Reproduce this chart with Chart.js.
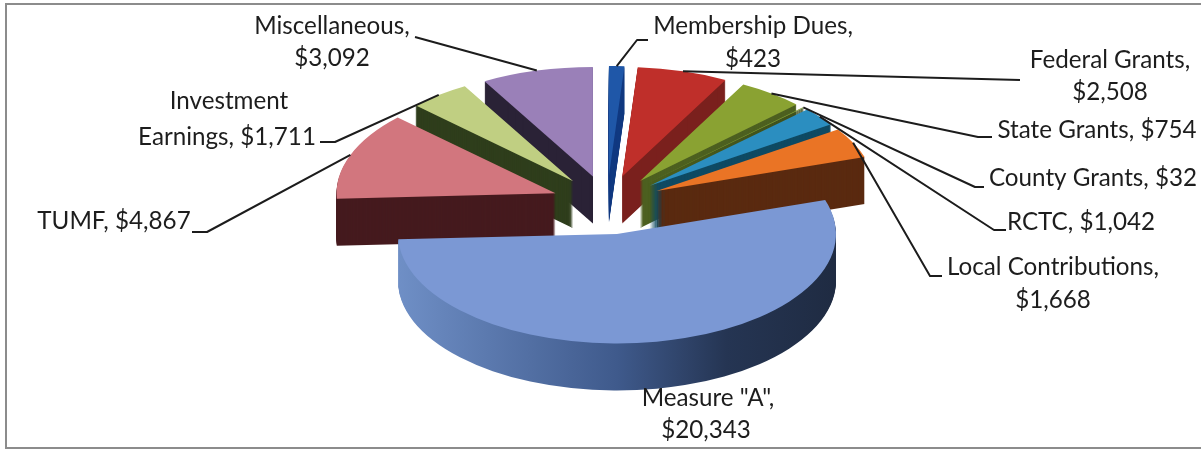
<!DOCTYPE html>
<html>
<head>
<meta charset="utf-8">
<style>html,body{margin:0;padding:0;background:#fff}canvas{display:block}</style>
<script src="https://cdn.jsdelivr.net/npm/chart.js@4"></script>
</head>
<body>
<canvas id="c" width="1201" height="450"></canvas>
<script>
const categories = ['Membership Dues','Federal Grants','State Grants','County Grants','RCTC','Local Contributions','Measure "A"','TUMF','Investment Earnings','Miscellaneous'];
// Values as printed in the data labels.
const printedValues = [423,2508,754,32,1042,1668,20343,4867,1711,3092];
// Slice sizes as drawn: same as printed, except that the State Grants slice is
// drawn far wider than its "$754" label (about 18 degrees).
const sliceValues = [423,2508,1822,32,1042,1668,20343,4867,1711,3092];
const topColors = ['#1f57a8','#bf2f2a','#8aa232','#7f9a35','#2b8ec0','#ea7425','#7b98d4','#d2767e','#c0cf82','#9a80b8'];
const sideColors = ['#123a80','#7a201d','#4d6020','#3c4d1c','#0f4a63','#5a2a10',null,'#451a1e','#2f3e1c','#2a2236'];
const drawOrder = [9,1,0,8,2,3,4,5,7,6];
const labelLines = [
  [['Membership Dues,',753,26],['$423',753,59]],
  [['Federal Grants,',1110,60],['$2,508',1110,92]],
  [['State Grants, $754',1097,130]],
  [['County Grants, $32',1093,178]],
  [['RCTC, $1,042',1081,222]],
  [['Local Contributions,',1053,267],['$1,668',1053,300]],
  [['Measure "A",',708,398],['$20,343',706,430]],
  [['TUMF, $4,867',114,221]],
  [['Investment',229,101],['Earnings, $1,711',227,137]],
  [['Miscellaneous,',332,26],['$3,092',332,58]]
];
const leaderPaths = [
  [[637,40],[648,40]],
  [[1020,80]],
  [[978,137],[992,137]],
  [[975,187],[984,187]],
  [[994,230],[1006,230]],
  [[930,276],[942,276]],
  [],
  [[207,232],[192,232]],
  [[335,142],[320,142]],
  [[415,37]]
];
const RADIUS = 219, SQUASH = 0.5, EXPLODE = 55, DEPTH = 47, FRONT_PUSH = 4;

function placed(arc){
  const mid=(arc.startAngle+arc.endAngle)/2, s=Math.sin(mid);
  return {mid, dx:Math.cos(mid)*EXPLODE, dy:s*EXPLODE*SQUASH+(s>0?s*FRONT_PUSH:0)};
}
function paintArc(ctx,arc,fill,dy){
  const p=placed(arc), saved=arc.options;
  arc.options=Object.assign({},saved,{backgroundColor:fill,borderWidth:0,offset:0});
  ctx.save();
  ctx.translate(arc.x+p.dx,arc.y+p.dy+dy);
  ctx.scale(1,SQUASH);
  ctx.translate(-arc.x,-arc.y);
  arc.draw(ctx);
  ctx.restore();
  arc.options=saved;
}
const pie3d={
  id:'pie3d',
  beforeDatasetsDraw(chart){
    const ctx=chart.ctx, arcs=chart.getDatasetMeta(0).data;
    ctx.save();
    ctx.strokeStyle='#8c8c8c';ctx.lineWidth=2;
    ctx.beginPath();ctx.moveTo(1201,4);ctx.lineTo(6,4);ctx.lineTo(6,448);ctx.lineTo(1201,448);ctx.stroke();
    ctx.restore();
    drawOrder.forEach(i=>{
      const arc=arcs[i];
      let side=sideColors[i];
      if(!side){
        side=ctx.createLinearGradient(arc.x-RADIUS,0,arc.x+RADIUS,0);
        side.addColorStop(0,'#6f8fc6');side.addColorStop(.5,'#3f5a8c');side.addColorStop(.75,'#253553');side.addColorStop(1,'#1f2b42');
      }
      for(let k=DEPTH;k>=1;k--) paintArc(ctx,arc,side,k);
      paintArc(ctx,arc,topColors[i],0);
    });
    ctx.save();
    ctx.strokeStyle='#1c1c1c';ctx.lineWidth=2;ctx.lineJoin='round';
    arcs.forEach((arc,i)=>{
      if(!leaderPaths[i].length) return;
      const p=placed(arc);
      const x=arc.x+p.dx+Math.cos(p.mid)*RADIUS, y=arc.y+p.dy+Math.sin(p.mid)*RADIUS*SQUASH;
      ctx.beginPath();ctx.moveTo(x,y);
      leaderPaths[i].forEach(q=>ctx.lineTo(q[0],q[1]));
      ctx.stroke();
    });
    ctx.fillStyle='#1d1d1d';ctx.font='24.2px Lato';ctx.textAlign='center';ctx.textBaseline='middle';
    labelLines.forEach(lines=>lines.forEach(l=>ctx.fillText(l[0],l[1],l[2])));
    ctx.restore();
    return false;
  }
};
new Chart(document.getElementById('c'),{
  type:'pie',
  data:{labels:categories,datasets:[{data:sliceValues,backgroundColor:topColors,borderWidth:0,radius:RADIUS}]},
  options:{
    responsive:false,animation:false,
    layout:{padding:{left:13,bottom:44}},
    plugins:{legend:{display:false},tooltip:{enabled:false}}
  },
  plugins:[pie3d]
});
</script>
</body>
</html>
